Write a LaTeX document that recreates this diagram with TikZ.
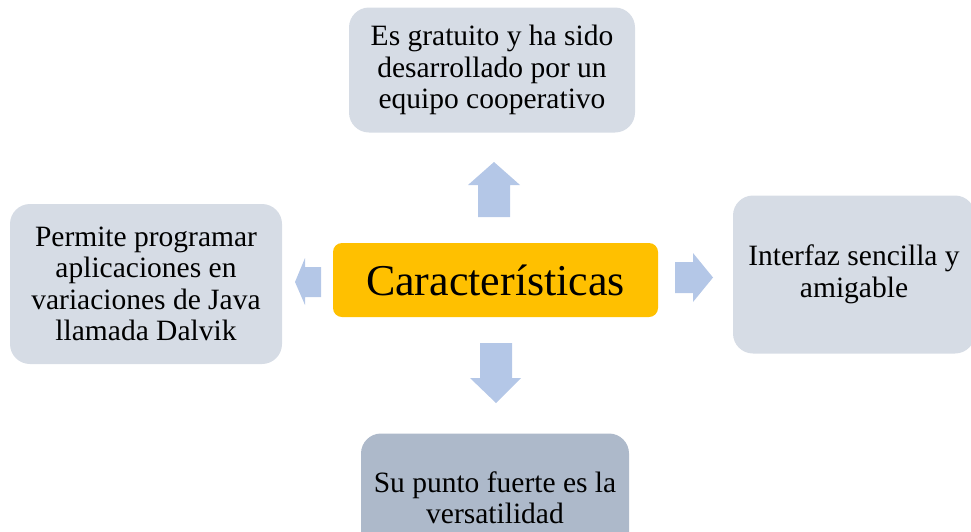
\documentclass[tikz,border=0pt]{standalone}
\usepackage{fontspec}
\setmainfont{Liberation Serif}
\usepackage{xcolor}
\usepackage{tikz}
\usetikzlibrary{positioning}
\definecolor{cardgray}{HTML}{D6DCE5}
\definecolor{carddark}{HTML}{ADB9CA}
\definecolor{mainyellow}{HTML}{FFC000}
\definecolor{arrowblue}{HTML}{B4C7E7}
\tikzstyle{card} = [
    rectangle,
    rounded corners=20pt,
    align=center,
    inner sep=0pt,
    fill=cardgray,
    font=\fontsize{29.5}{31.5}\selectfont
]
\tikzstyle{central} = [
    rectangle,
    rounded corners=9pt,
    minimum width=325pt,
    minimum height=74pt,
    fill=mainyellow,
    font=\fontsize{44}{50}\selectfont
]
\tikzstyle{blockarrow} = [
    fill=arrowblue,
    draw=none
]

\begin{document}
\begin{tikzpicture}[x=1pt, y=-1pt]
        \clip (0,0) rectangle (971,531);
        % Center
        \node[central] (car) at (495.5,280) {Características};

        % Cards around
        \node[card, minimum width=286pt, minimum height=125pt] (free) at (492,70)
            {Es gratuito y ha sido\\desarrollado por un\\equipo cooperativo};
        \node[card, minimum width=272pt, minimum height=160pt] (java) at (146,284)
            {Permite programar\\aplicaciones en\\variaciones de Java\\llamada Dalvik};
        \node[card, minimum width=242pt, minimum height=158pt] (ui) at (854,274.5)
            {Interfaz sencilla y\\amigable};
        \node[card, fill=carddark, minimum width=268pt, minimum height=128pt] (versa) at (495,497.5)
            {Su punto fuerte es la\\versatilidad};

        % Block arrows
        \fill[blockarrow] (494,162) -- (520,185) -- (510,185) -- (510,217)
            -- (478,217) -- (478,185) -- (468,185) -- cycle;
        \fill[blockarrow] (496,403) -- (521,378) -- (512,378) -- (512,343)
            -- (480,343) -- (480,378) -- (470,378) -- cycle;
        \fill[blockarrow] (713,277.5) -- (693,253) -- (693,262) -- (675,262)
            -- (675,293) -- (693,293) -- (693,302) -- cycle;
        \fill[blockarrow] (295,282) -- (305,258) -- (305,267) -- (321,267)
            -- (321,297) -- (305,297) -- (305,305) -- cycle;
    \end{tikzpicture}
\end{document}
